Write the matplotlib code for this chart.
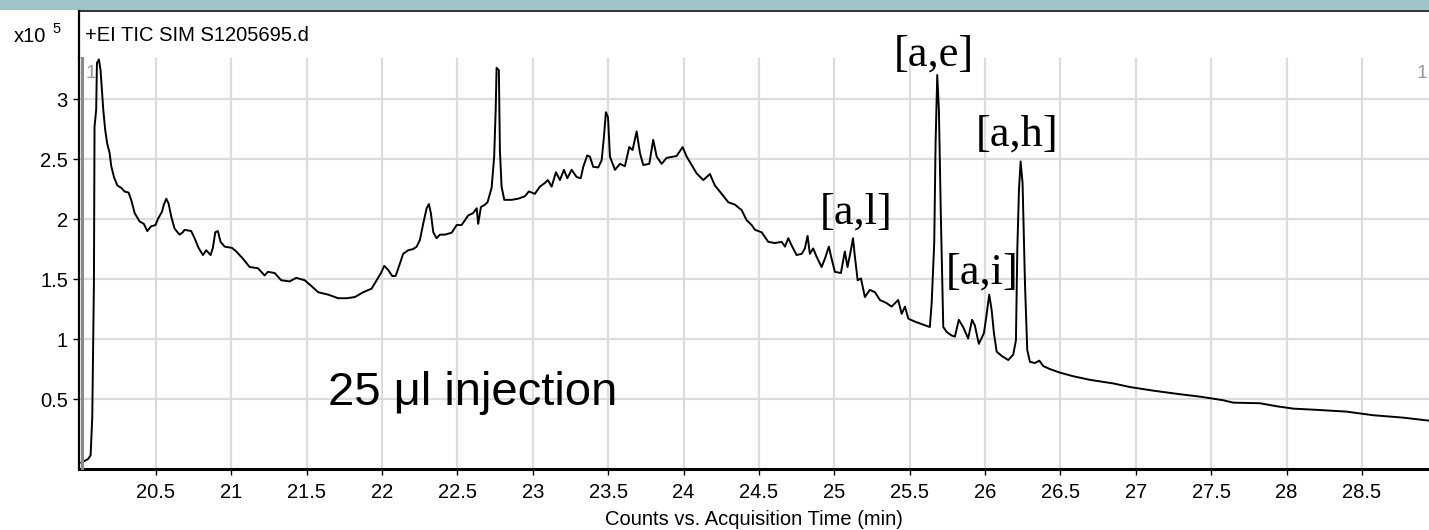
import matplotlib
matplotlib.use("Agg")
import matplotlib.pyplot as plt
from matplotlib.lines import Line2D
from matplotlib.patches import Rectangle

plt.rcParams['font.family'] = ['Liberation Sans', 'DejaVu Sans']

# retention time (min) and TIC counts (x10^5)
rt_min = [
    20.005, 20.05, 20.067, 20.078, 20.089, 20.093, 20.104, 20.109, 20.122, 20.133,
    20.142, 20.151, 20.164, 20.177, 20.193, 20.204, 20.222, 20.244, 20.27, 20.292,
    20.319, 20.336, 20.359, 20.392, 20.42, 20.443, 20.469, 20.498, 20.513, 20.54,
    20.553, 20.569, 20.584, 20.602, 20.624, 20.657, 20.679, 20.69, 20.734, 20.757,
    20.783, 20.812, 20.834, 20.863, 20.878, 20.894, 20.911, 20.929, 20.956, 21.004,
    21.033, 21.077, 21.122, 21.177, 21.221, 21.243, 21.288, 21.331, 21.387, 21.431,
    21.487, 21.533, 21.577, 21.643, 21.71, 21.765, 21.82, 21.875, 21.931, 21.964,
    21.993, 22.015, 22.041, 22.068, 22.09, 22.119, 22.14, 22.174, 22.207, 22.23,
    22.251, 22.273, 22.296, 22.311, 22.324, 22.34, 22.362, 22.384, 22.417, 22.462,
    22.495, 22.528, 22.572, 22.605, 22.628, 22.638, 22.656, 22.683, 22.70, 22.716,
    22.727, 22.744, 22.754, 22.76, 22.775, 22.782, 22.793, 22.811, 22.86, 22.904,
    22.948, 22.974, 23.014, 23.047, 23.08, 23.10, 23.125, 23.154, 23.18, 23.207,
    23.229, 23.258, 23.291, 23.318, 23.335, 23.361, 23.379, 23.401, 23.434, 23.457,
    23.472, 23.485, 23.499, 23.512, 23.545, 23.578, 23.611, 23.64, 23.662, 23.689,
    23.711, 23.733, 23.773, 23.799, 23.822, 23.855, 23.888, 23.954, 23.994, 24.021,
    24.054, 24.087, 24.131, 24.175, 24.208, 24.253, 24.297, 24.341, 24.385, 24.419,
    24.452, 24.474, 24.518, 24.562, 24.606, 24.651, 24.673, 24.695, 24.717, 24.75,
    24.784, 24.805, 24.823, 24.838, 24.86, 24.883, 24.916, 24.938, 24.964, 24.982,
    25.004, 25.044, 25.07, 25.088, 25.11, 25.124, 25.137, 25.155, 25.177, 25.203,
    25.236, 25.27, 25.303, 25.347, 25.38, 25.424, 25.447, 25.469, 25.491, 25.535,
    25.579, 25.634, 25.646, 25.663, 25.672, 25.683, 25.694, 25.707, 25.723, 25.745,
    25.778, 25.80, 25.826, 25.855, 25.888, 25.914, 25.932, 25.959, 25.993, 26.011,
    26.028, 26.044, 26.059, 26.077, 26.11, 26.154, 26.187, 26.205, 26.214, 26.225,
    26.236, 26.249, 26.265, 26.28, 26.298, 26.331, 26.36, 26.386, 26.43, 26.497,
    26.585, 26.696, 26.851, 26.961, 27.116, 27.293, 27.426, 27.58, 27.646, 27.824,
    27.934, 28.045, 28.20, 28.399, 28.575, 28.774, 28.945,
]
tic_e5 = [
    -0.03, 0.00, 0.03, 0.35, 1.47, 2.77, 2.91, 3.30, 3.33, 3.24,
    3.08, 2.91, 2.74, 2.63, 2.55, 2.44, 2.35, 2.28, 2.26, 2.23,
    2.22, 2.16, 2.05, 1.98, 1.96, 1.90, 1.94, 1.95, 2.00, 2.06,
    2.12, 2.17, 2.13, 2.02, 1.92, 1.87, 1.89, 1.91, 1.90, 1.84,
    1.76, 1.70, 1.74, 1.70, 1.76, 1.89, 1.90, 1.81, 1.77, 1.76,
    1.73, 1.67, 1.60, 1.59, 1.53, 1.56, 1.55, 1.49, 1.48, 1.51,
    1.49, 1.44, 1.39, 1.37, 1.34, 1.34, 1.35, 1.39, 1.42, 1.49,
    1.55, 1.61, 1.575, 1.525, 1.525, 1.63, 1.71, 1.74, 1.75, 1.77,
    1.825, 1.96, 2.09, 2.125, 2.05, 1.89, 1.84, 1.87, 1.87, 1.886,
    1.95, 1.95, 2.03, 2.05, 2.09, 1.96, 2.10, 2.12, 2.14, 2.21,
    2.26, 2.52, 2.91, 3.26, 3.24, 2.575, 2.27, 2.16, 2.16, 2.17,
    2.19, 2.23, 2.21, 2.27, 2.30, 2.325, 2.27, 2.39, 2.325, 2.41,
    2.34, 2.41, 2.35, 2.34, 2.435, 2.53, 2.52, 2.435, 2.43, 2.49,
    2.685, 2.89, 2.85, 2.52, 2.41, 2.46, 2.44, 2.60, 2.575, 2.73,
    2.55, 2.45, 2.46, 2.66, 2.52, 2.46, 2.51, 2.525, 2.60, 2.52,
    2.45, 2.38, 2.325, 2.375, 2.28, 2.21, 2.14, 2.12, 2.075, 1.99,
    1.95, 1.91, 1.89, 1.81, 1.80, 1.81, 1.77, 1.84, 1.78, 1.70,
    1.71, 1.755, 1.86, 1.71, 1.755, 1.685, 1.60, 1.67, 1.77, 1.67,
    1.56, 1.55, 1.73, 1.60, 1.74, 1.84, 1.685, 1.49, 1.505, 1.35,
    1.41, 1.39, 1.325, 1.30, 1.27, 1.325, 1.21, 1.27, 1.17, 1.145,
    1.125, 1.10, 1.30, 1.80, 2.63, 3.20, 2.91, 2.02, 1.10, 1.06,
    1.03, 1.02, 1.16, 1.10, 1.005, 1.16, 1.115, 0.96, 1.05, 1.21,
    1.37, 1.24, 1.05, 0.895, 0.86, 0.825, 0.87, 0.99, 1.74, 2.24,
    2.48, 2.30, 1.46, 0.91, 0.81, 0.80, 0.82, 0.775, 0.75, 0.72,
    0.69, 0.66, 0.63, 0.60, 0.57, 0.54, 0.52, 0.49, 0.47, 0.465,
    0.44, 0.42, 0.41, 0.395, 0.365, 0.345, 0.32,
]

x_ticks = [20.5, 21, 21.5, 22, 22.5, 23, 23.5, 24, 24.5, 25, 25.5, 26, 26.5, 27, 27.5, 28, 28.5]
x_tick_labels = ['20.5', '21', '21.5', '22', '22.5', '23', '23.5', '24', '24.5',
                 '25', '25.5', '26', '26.5', '27', '27.5', '28', '28.5']
y_ticks = [0.5, 1, 1.5, 2, 2.5, 3]
y_tick_labels = ['0.5', '1', '1.5', '2', '2.5', '3']

# compound labels: (text, retention time, baseline height)
peak_labels = [('[a,e]', 25.661, 3.28), ('[a,h]', 26.215, 2.61),
               ('[a,l]', 25.144, 1.96), ('[a,i]', 25.98, 1.46)]

W, H = 1429, 530


def fx(px):
    return px / W


def fy(py):
    return 1 - py / H


fig = plt.figure(figsize=(W / 100, H / 100), dpi=100)
fig.patch.set_facecolor('white')

# teal strip on top and the frame line under it
fig.add_artist(Rectangle((0, fy(9.5)), 1, 9.5 / H, transform=fig.transFigure,
                         facecolor='#9fc6c6', edgecolor='none'))
fig.add_artist(Line2D([fx(79), 1], [fy(10.5), fy(10.5)], transform=fig.transFigure,
                      color='#222222', lw=1.3))

ax = fig.add_axes([fx(79), fy(469), 1 - fx(79), (469 - 58) / H])
ax.plot(rt_min, tic_e5, color='black', lw=1.4, zorder=3)

ax.set_xlim(19.99, 28.945)
ax.set_ylim(-0.083, 3.342)
ax.set_xticks(x_ticks)
ax.set_xticklabels(x_tick_labels)
ax.set_yticks(y_ticks)
ax.set_yticklabels(y_tick_labels)
ax.grid(True, color='#dcdcdc', lw=1.6, zorder=0)
ax.set_axisbelow(True)
ax.tick_params(axis='both', direction='out', length=4, width=1, labelsize=14.5,
               color='black')
ax.tick_params(axis='x', pad=6)
ax.tick_params(axis='y', pad=4)
for s in ['top', 'right']:
    ax.spines[s].set_visible(False)
ax.spines['left'].set_linewidth(1.6)
ax.spines['bottom'].set_linewidth(2.2)
ax.set_xlabel('Counts vs. Acquisition Time (min)', fontsize=14.5, labelpad=5.5)

# left frame continues up into the header area, gray marker bar inside it
fig.add_artist(Line2D([fx(79), fx(79)], [fy(58), fy(10.5)], transform=fig.transFigure,
                      color='black', lw=1.6))
fig.add_artist(Line2D([fx(81.8), fx(81.8)], [fy(468), fy(58)], transform=fig.transFigure,
                      color='#8a8a8a', lw=2.2, zorder=4))

fig.text(fx(14), fy(42), 'x10', fontsize=14.5)
fig.text(fx(52), fy(33), '5', fontsize=10.5)
fig.text(fx(85), fy(41), '+EI TIC SIM S1205695.d', fontsize=14.5)
fig.text(fx(85.5), fy(78), '1', fontsize=14, color='#999999')
fig.text(fx(1417), fy(78), '1', fontsize=14, color='#999999')

for label, t, h in peak_labels:
    ax.text(t, h, label, family=['Liberation Serif', 'DejaVu Serif'], fontsize=32,
            ha='center', va='baseline')

ax.text(21.641, 0.45, '25 \u03bcl injection', fontsize=34, ha='left', va='baseline')

fig.savefig('out.png', dpi=100)
